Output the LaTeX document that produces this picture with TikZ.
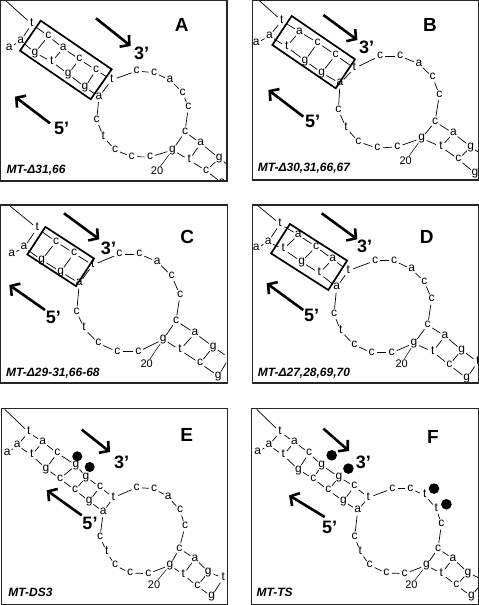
\documentclass[tikz,border=0pt]{standalone}
\usepackage{fontspec}
\setmainfont{Liberation Sans}
\usetikzlibrary{arrows.meta}

\begin{document}
\begin{tikzpicture}[x=1pt, y=-1pt,
  nt/.style={circle, inner sep=0pt, minimum size=10.5pt, text height=1ex, text depth=0pt,
    font=\fontsize{12}{12}\selectfont},
  bb/.style={line width=0.7pt},
  tick/.style={line width=0.5pt},
  num/.style={inner sep=0.5pt, font=\fontsize{11}{11}\selectfont},
  hbox/.style={line width=1.7pt},
  panel/.style={line width=1.2pt, draw=black!85},
  arr/.style={line width=2.6pt, -{Straight Barb[length=6.5pt,width=15pt]}},
  endlab/.style={font=\fontsize{18}{18}\selectfont\bfseries},
  tag/.style={font=\fontsize{19}{19}\selectfont\bfseries},
  mt/.style={anchor=west, inner sep=0pt, font=\fontsize{12}{12}\selectfont\bfseries\itshape},
  dot/.style={fill=black}]
\useasboundingbox (0,0) rectangle (479,605);

% panel A
\begin{scope}[shift={(0,0)}]
  \begin{scope}
    \clip (0,0) rectangle (227,181);
    \coordinate (Au0) at (5,0);
    \foreach \n/\x/\y/\nuc in {1/31.7/24/t, 2/48.3/36/c, 3/63.3/48.3/a, 4/79.3/59.3/c, 5/96/70/c,
      6/111.7/80/t, 7/136.7/71/c, 8/154/72.7/c, 9/170/80/a, 10/182.7/92.7/c, 11/188.3/107.3/c,
      12/185/132/c, 13/200.7/143.3/a, 14/219.3/158.3/g, 15/236/171/t}
      \node[nt] (Au\n) at (\x,\y) {\nuc};
    \foreach \n/\x/\y/\nuc in {1/9.3/47.7/a, 2/20.7/40.7/a, 3/35/52.7/g, 4/51.7/61.7/t, 5/68.3/74/g,
      6/85/87.3/g, 7/99/96.7/a, 8/96.7/120/c, 9/103.3/136.7/t, 10/115/150/c, 11/131.7/156.7/c,
      12/150/157/c, 13/172.5/150/g, 14/189.3/160/t, 15/206/170.7/c, 16/222/183/a}
      \node[nt] (Al\n) at (\x,\y) {\nuc};
    \foreach \i [remember=\i as \k (initially 0)] in {1,...,15} \draw[bb] (Au\k) -- (Au\i);
    \foreach \i [remember=\i as \k (initially 1)] in {2,...,16} \draw[bb] (Al\k) -- (Al\i);
    \foreach \a/\b in {1/2, 2/3, 3/4, 4/5, 5/6, 6/7, 12/13, 13/14, 14/15, 15/16}
      \draw[bb] (Au\a) -- (Al\b);
    \node[num] (A20) at (157,171) {20};
    \draw[tick] (Al13) -- (A20);
    \draw[hbox] (40.7,20.7) -- (111.7,69.3) -- (90.7,99.3) -- (20,50.7) -- cycle;
    \coordinate (A3a) at (96,18.3);
    \coordinate (A3b) at (130.7,46);
    \draw[arr] (A3a) -- (A3b);
    \node[endlab] (A3) at (141.7,53.3) {3'};
    \coordinate (A5a) at (50,123.3);
    \coordinate (A5b) at (15,96.7);
    \draw[arr] (A5a) -- (A5b);
    \node[endlab] (A5) at (61.7,128.3) {5'};
    \node[tag] (Atag) at (181.7,25) {A};
    \node[mt] (Amt) at (6.5,170) {MT-Δ31,66};
  \end{scope}
  \draw[panel] (0.7,0.7) rectangle (227,181);
\end{scope}

% panel B
\begin{scope}[shift={(252.7,0)}]
  \begin{scope}
    \clip (0,0) rectangle (225.6,180);
    \coordinate (Bu0) at (7,1);
    \foreach \n/\x/\y/\nuc in {1/29/20.7/t, 2/46.7/31.7/a, 3/65/42.7/c, 4/83/55/c, 5/101.7/68.3/t,
      6/127.3/56/c, 7/147.3/56/c, 8/166.3/64/a, 9/180/77.3/c, 10/186.7/95/c, 11/182.3/121.7/c,
      12/200.7/133.3/a, 13/218/146.7/g, 14/234/158/t}
      \node[nt] (Bu\n) at (\x,\y) {\nuc};
    \foreach \n/\x/\y/\nuc in {1/3.5/43.3/a, 2/16.7/36/a, 3/34/46.7/t, 4/52.3/60.7/g, 5/69/72.7/g,
      6/87.3/83.3/a, 7/85.7/110/c, 8/93.3/127.7/t, 9/105.7/141.7/c, 10/124.7/148.3/c,
      11/144.7/146.7/c, 12/169/138.3/g, 13/188.3/146.7/t, 14/205.7/159.3/c, 15/222.3/173.3/g}
      \node[nt] (Bl\n) at (\x,\y) {\nuc};
    \foreach \i [remember=\i as \k (initially 0)] in {1,...,14} \draw[bb] (Bu\k) -- (Bu\i);
    \foreach \i [remember=\i as \k (initially 1)] in {2,...,15} \draw[bb] (Bl\k) -- (Bl\i);
    \foreach \a/\b in {1/2, 2/3, 3/4, 4/5, 5/6, 11/12, 12/13, 13/14, 14/15}
      \draw[bb] (Bu\a) -- (Bl\b);
    \node[num] (B20) at (153,160.7) {20};
    \draw[tick] (Bl12) -- (B20);
    \draw[hbox] (39,16) -- (102.3,59.3) -- (83,88.3) -- (19.7,45) -- cycle;
    \coordinate (B3a) at (70.7,15);
    \coordinate (B3b) at (104.7,40);
    \draw[arr] (B3a) -- (B3b);
    \node[endlab] (B3) at (114,47.5) {3'};
    \coordinate (B5a) at (50.7,116.7);
    \coordinate (B5b) at (15.7,90);
    \draw[arr] (B5a) -- (B5b);
    \node[endlab] (B5) at (60,121.7) {5'};
    \node[tag] (Btag) at (177.3,25) {B};
    \node[mt] (Bmt) at (5,168.3) {MT-Δ30,31,66,67};
  \end{scope}
  \draw[panel] (0,0.7) rectangle (225.6,180);
\end{scope}

% panel C
\begin{scope}[shift={(0,205)}]
  \begin{scope}
    \clip (0,0) rectangle (227.7,178);
    \coordinate (Cu0) at (10,1);
    \foreach \n/\x/\y/\nuc in {1/37.3/23.3/t, 2/56/36.7/c, 3/74/48.3/c, 4/92.7/60/t, 5/119.3/49/c,
      6/139.3/49/c, 7/157.3/56.7/a, 8/171.7/71/c, 9/180/90/c, 10/176/115.7/c, 11/195/128.3/a,
      12/213.3/141.7/g, 13/229/153/t}
      \node[nt] (Cu\n) at (\x,\y) {\nuc};
    \foreach \n/\x/\y/\nuc in {1/11.7/49.3/a, 2/24/42.3/a, 3/41.7/55/g, 4/60.7/66.7/g, 5/79.3/78.3/a,
      6/76.7/106.7/c, 7/84/123.3/t, 8/98.3/138.3/c, 9/117.3/146.7/c, 10/138.3/146.7/c,
      11/163.3/134.3/g, 12/180/145/t, 13/200/158.3/c, 14/218.3/171/g}
      \node[nt] (Cl\n) at (\x,\y) {\nuc};
    \foreach \i [remember=\i as \k (initially 0)] in {1,...,13} \draw[bb] (Cu\k) -- (Cu\i);
    \foreach \i [remember=\i as \k (initially 1)] in {2,...,14} \draw[bb] (Cl\k) -- (Cl\i);
    \foreach \a/\b in {1/2, 2/3, 3/4, 4/5, 10/11, 11/12, 12/13, 13/14}
      \draw[bb] (Cu\a) -- (Cl\b);
    \node[num] (C20) at (146.7,159) {20};
    \draw[tick] (Cl11) -- (C20);
    \draw[hbox] (45.4,21.9) -- (94,53.5) -- (76,81.1) -- (27.4,49.5) -- cycle;
    \coordinate (C3a) at (64,8.3);
    \coordinate (C3b) at (99.3,34.3);
    \draw[arr] (C3a) -- (C3b);
    \node[endlab] (C3) at (108.5,43) {3'};
    \coordinate (C5a) at (45,105);
    \coordinate (C5b) at (9.3,80);
    \draw[arr] (C5a) -- (C5b);
    \node[endlab] (C5) at (53.3,112.3) {5'};
    \node[tag] (Ctag) at (187.3,31.7) {C};
    \node[mt] (Cmt) at (6,168.3) {MT-Δ29-31,66-68};
  \end{scope}
  \draw[panel] (0.7,0) rectangle (227.7,178);
\end{scope}

% panel D
\begin{scope}[shift={(252.7,205)}]
  \begin{scope}
    \clip (0,0) rectangle (225.6,178);
    \coordinate (Du0) at (5.6,1);
    \foreach \n/\x/\y/\nuc in {1/27.3/19/t, 2/45.6/30/a, 3/63.3/41.7/c, 4/80/54.3/a, 5/95.6/65.7/t,
      6/122.3/55.7/c, 7/141.3/55.7/c, 8/159/64.3/a, 9/171.6/76.7/c, 10/179/94.3/c, 11/175/120/c,
      12/192.3/131/a, 13/209/145/g, 14/225/157/t}
      \node[nt] (Du\n) at (\x,\y) {\nuc};
    \foreach \n/\x/\y/\nuc in {1/3.5/43.3/a, 2/15.6/36.7/a, 3/30.6/44.3/t, 4/49/56.7/g, 5/66.6/68.3/t,
      6/84/82.3/a, 7/81.3/109/c, 8/88/126/t, 9/101.6/140/c, 10/119/147.7/c, 11/139/147.7/c,
      12/161.3/138.3/g, 13/180/146.7/t, 14/196.6/160/c, 15/214/173.3/g}
      \node[nt] (Dl\n) at (\x,\y) {\nuc};
    \foreach \i [remember=\i as \k (initially 0)] in {1,...,14} \draw[bb] (Du\k) -- (Du\i);
    \foreach \i [remember=\i as \k (initially 1)] in {2,...,15} \draw[bb] (Dl\k) -- (Dl\i);
    \foreach \a/\b in {1/2, 2/3, 3/4, 4/5, 5/6, 11/12, 12/13, 13/14, 14/15}
      \draw[bb] (Du\a) -- (Dl\b);
    \node[num] (D20) at (149,158.3) {20};
    \draw[tick] (Dl12) -- (D20);
    \draw[hbox] (37.2,19) -- (94.4,55.6) -- (75.6,85) -- (18.4,48.4) -- cycle;
    \coordinate (D3a) at (69,8.3);
    \coordinate (D3b) at (104.6,34.3);
    \draw[arr] (D3a) -- (D3b);
    \node[endlab] (D3) at (112,41.5) {3'};
    \coordinate (D5a) at (50.6,105);
    \coordinate (D5b) at (14,78.3);
    \draw[arr] (D5a) -- (D5b);
    \node[endlab] (D5) at (59,110) {5'};
    \node[tag] (Dtag) at (174,31.7) {D};
    \node[mt] (Dmt) at (5,168.3) {MT-Δ27,28,69,70};
  \end{scope}
  \draw[panel] (0,0) rectangle (225.6,178);
\end{scope}

% panel E
\begin{scope}[shift={(1.7,408.3)}]
  \begin{scope}
    \clip (0,0) rectangle (226,196);
    \coordinate (Eu0) at (3,1);
    \foreach \n/\x/\y/\nuc in {1/27/24/t, 2/41/33.7/a, 3/55.6/44.7/c, 4/74.3/57/g, 5/84.3/68.7/g,
      6/98.3/78.7/c, 7/111.6/89.3/t, 8/135/79.3/c, 9/152.3/80.3/c, 10/166.6/88.7/a,
      11/178.3/102/c, 12/183.3/118/c, 13/177.6/140.3/c, 14/193.3/150.3/a, 15/206.6/163.7/g,
      16/221.6/169.7/t}
      \node[nt] (Eu\n) at (\x,\y) {\nuc};
    \foreach \n/\x/\y/\nuc in {1/5.6/44.7/a, 2/15.6/37/a, 3/30/47/t, 4/44.3/60.3/g, 5/58.3/70.3/c,
      6/73.3/82/c, 7/87.6/92.7/g, 8/101.6/103.7/a, 9/98.3/128.7/c, 10/105/143.7/t,
      11/113.3/157/c, 12/128.3/164.7/c, 13/146.6/165.3/c, 14/168.3/157/g, 15/181.6/166.3/t,
      16/195.6/178/c, 17/210/188/g}
      \node[nt] (El\n) at (\x,\y) {\nuc};
    \foreach \i [remember=\i as \k (initially 0)] in {1,...,16} \draw[bb] (Eu\k) -- (Eu\i);
    \foreach \i [remember=\i as \k (initially 1)] in {2,...,17} \draw[bb] (El\k) -- (El\i);
    \foreach \a/\b in {1/2, 2/3, 3/4, 4/5, 5/6, 6/7, 7/8, 13/14, 14/15, 15/16, 16/17}
      \draw[bb] (Eu\a) -- (El\b);
    \fill[dot] (75.6,48) circle [radius=5];
    \fill[dot] (88,58.7) circle [radius=5];
    \node[num] (E20) at (152.3,176.3) {20};
    \draw[tick] (El14) -- (E20);
    \coordinate (E3a) at (80,21.3);
    \coordinate (E3b) at (108.3,43.7);
    \draw[arr] (E3a) -- (E3b);
    \node[endlab] (E3) at (120,53.7) {3'};
    \coordinate (E5a) at (80,107);
    \coordinate (E5b) at (45,82);
    \draw[arr] (E5a) -- (E5b);
    \node[endlab] (E5) at (88.3,114.7) {5'};
    \node[tag] (Etag) at (185,27) {E};
    \node[mt] (Emt) at (6.6,183.7) {MT-DS3};
  \end{scope}
  \draw[panel] (0,0) rectangle (226,196);
\end{scope}

% panel F
\begin{scope}[shift={(251.7,408.3)}]
  \begin{scope}
    \clip (0,0) rectangle (226.6,196);
    \coordinate (Fu0) at (5,1);
    \foreach \n/\x/\y/\nuc in {1/28.3/23.7/t, 2/42.7/33.7/a, 3/57.3/44.7/c, 4/70/57/g, 5/87.3/68.7/g,
      6/102.7/78/c, 7/116.7/89.3/t, 8/140.7/80.3/c, 9/158.7/80.3/c, 10/173/87/t,
      11/184.7/100.3/t, 12/189.7/116/c, 13/186.3/140.3/c, 14/201.3/150.3/a, 15/216.3/164.3/g,
      16/232/172/t}
      \node[nt] (Fu\n) at (\x,\y) {\nuc};
    \foreach \n/\x/\y/\nuc in {1/6/43.7/a, 2/17.3/37/a, 3/31.7/47/t, 4/46.7/61.3/g, 5/61.7/70.3/c,
      6/76.7/82/c, 7/91.7/92.7/g, 8/106/102/a, 9/103/128.7/c, 10/108.7/143.7/t,
      11/118/157/c, 12/134.7/164.7/c, 13/153/165.3/c, 14/174.7/157/g, 15/189.7/165.3/t,
      16/204.7/177/c, 17/219.7/188/g}
      \node[nt] (Fl\n) at (\x,\y) {\nuc};
    \foreach \i [remember=\i as \k (initially 0)] in {1,...,16} \draw[bb] (Fu\k) -- (Fu\i);
    \foreach \i [remember=\i as \k (initially 1)] in {2,...,17} \draw[bb] (Fl\k) -- (Fl\i);
    \foreach \a/\b in {1/2, 2/3, 3/4, 4/5, 5/6, 6/7, 7/8, 13/14, 14/15, 15/16, 16/17}
      \draw[bb] (Fu\a) -- (Fl\b);
    \fill[dot] (80,47) circle [radius=5.3];
    \fill[dot] (96.7,60.3) circle [radius=5.3];
    \fill[dot] (182.3,80.3) circle [radius=5.3];
    \fill[dot] (194.7,96) circle [radius=5.3];
    \node[num] (F20) at (159.7,176.3) {20};
    \draw[tick] (Fl14) -- (F20);
    \coordinate (F3a) at (71.7,20.3);
    \coordinate (F3b) at (97.3,42.7);
    \draw[arr] (F3a) -- (F3b);
    \node[endlab] (F3) at (111.7,53.7) {3'};
    \coordinate (F5a) at (73,108.7);
    \coordinate (F5b) at (37.3,87);
    \draw[arr] (F5a) -- (F5b);
    \node[endlab] (F5) at (78,118.7) {5'};
    \node[tag] (Ftag) at (181.3,28.7) {F};
    \node[mt] (Fmt) at (4.7,184.3) {MT-TS};
  \end{scope}
  \draw[panel] (0,0) rectangle (226.6,196);
\end{scope}
\end{tikzpicture}
\end{document}
